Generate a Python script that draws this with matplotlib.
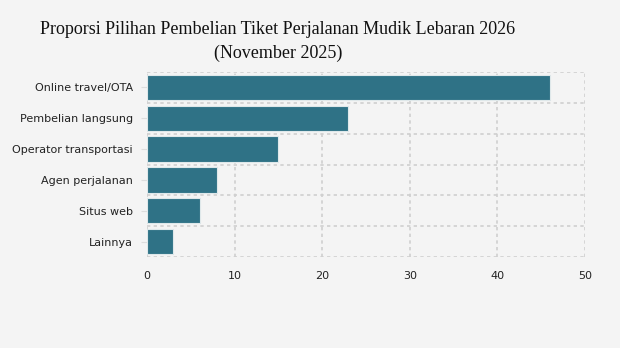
import matplotlib
matplotlib.use("Agg")
import matplotlib.pyplot as plt

categories = ["Online travel/OTA", "Pembelian langsung", "Operator transportasi",
              "Agen perjalanan", "Situs web", "Lainnya"]
values = [46, 23, 15, 8, 6, 3]
xticks = [0, 10, 20, 30, 40, 50]

bg = "#f4f4f4"
fig = plt.figure(figsize=(6.2, 3.48), dpi=100, facecolor=bg)
ax = fig.add_axes([147/620, 1-257/348, (585-147)/620, (257-72)/348], facecolor=bg)

ypos = list(range(len(categories)))[::-1]
ax.barh(ypos, values, height=0.82, color="#2f7286", edgecolor="#dfe8ea", linewidth=0.8, zorder=3)
ax.set_xlim(0, 50)
ax.set_ylim(-0.5, len(categories) - 0.5)
ax.set_yticks(ypos)
ax.set_yticklabels(categories, fontsize=8, color="#222222")
ax.set_xticks(xticks)
ax.set_xticklabels([str(t) for t in xticks], fontsize=8, color="#222222")

gc = "#cfcfcf"
for t in xticks:
    ax.axvline(t, color=gc, linestyle=(0, (2, 2)), linewidth=1.2, zorder=1)
for b in [i - 0.5 for i in range(len(categories) + 1)]:
    ax.axhline(b, color=gc, linestyle=(0, (2, 2)), linewidth=1.2, zorder=1)

for s in ax.spines.values():
    s.set_visible(False)
ax.tick_params(axis="y", length=4, color="#dddddd", pad=6)
ax.tick_params(axis="x", length=0, pad=10)

fig.text(278/620, 1-30/348, "Proporsi Pilihan Pembelian Tiket Perjalanan Mudik Lebaran 2026",
         ha="center", va="center", fontsize=13, family="Liberation Serif", color="#111111")
fig.text(278/620, 1-53/348, "(November 2025)",
         ha="center", va="center", fontsize=13, family="Liberation Serif", color="#111111")

fig.savefig("out.png", dpi=100, facecolor=bg)
